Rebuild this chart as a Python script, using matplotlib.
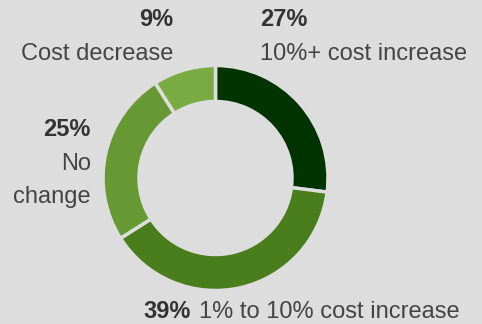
import matplotlib.pyplot as plt

labels = ['10%+ cost increase', '1% to 10% cost increase', 'No change', 'Cost decrease']
values = [27, 39, 25, 9]
colors = ['#003300', '#4a7d1c', '#669933', '#7aab42']
bg = '#dddddd'

plt.rcParams['font.family'] = ['Liberation Sans', 'DejaVu Sans']

fig = plt.figure(figsize=(4.82, 3.24), dpi=100, facecolor=bg)
ax = fig.add_axes([0, 0, 1, 1])
ax.set_facecolor(bg)
H = 324

# donut, clockwise from the top
ax.pie(values, colors=colors, startangle=90, counterclock=False,
       center=(215.5, H - 178), radius=112.5,
       wedgeprops=dict(width=36, edgecolor=bg, linewidth=2.5))
ax.set_xlim(0, 482)
ax.set_ylim(0, H)
ax.set_aspect('equal')
ax.axis('off')

fs = 17
bold = dict(fontsize=fs, fontweight='bold', color='#333333')
norm = dict(fontsize=fs, color='#444444')

# 9% cost decrease
ax.text(173, H - 20, f'{values[3]}%', ha='right', va='center', **bold)
ax.text(173, H - 54, labels[3], ha='right', va='center', **norm)
# 27%
ax.text(260, H - 20, f'{values[0]}%', ha='left', va='center', **bold)
ax.text(260, H - 54, labels[0], ha='left', va='center', **norm)
# 25% no change
ax.text(91, H - 130, f'{values[2]}%', ha='right', va='center', **bold)
ax.text(91, H - 164, 'No', ha='right', va='center', **norm)
ax.text(91, H - 197, 'change', ha='right', va='center', **norm)
# 39%
ax.text(143, H - 312, f'{values[1]}%', ha='left', va='center', **bold)
ax.text(199, H - 312, labels[1], ha='left', va='center', **norm)

fig.savefig('out.png', dpi=100, facecolor=bg)
